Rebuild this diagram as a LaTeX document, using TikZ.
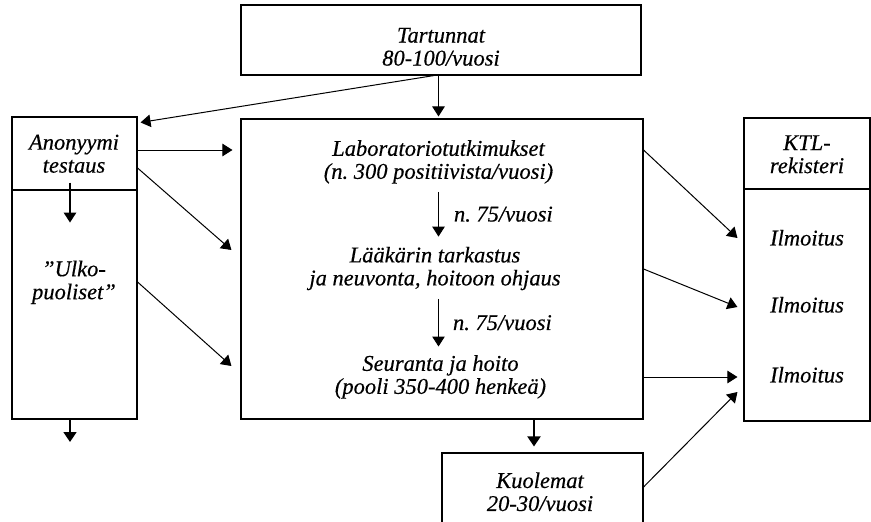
\documentclass[tikz,border=0pt]{standalone}
\usepackage{fontspec}
\setmainfont{Liberation Serif}[ItalicFeatures={FakeBold=0.4}]
\usepackage{tikz}
\usetikzlibrary{arrows.meta, positioning, calc}

\begin{document}
\begin{tikzpicture}[x=1pt, y=-1pt,
  box/.style={draw, line width=1.1pt, inner sep=0pt},
  txt/.style={align=center, inner sep=3pt, font=\fontsize{22.5}{23}\selectfont\itshape},
  arr/.style={line width=1pt, -{Triangle[length=10pt, width=12.5pt]}},
  thickarr/.style={line width=1.8pt, -{Triangle[length=10pt, width=13pt]}}]
\path[use as bounding box, fill=white] (0,0) rectangle (871,522);

% Boxes
\node[box, minimum width=400pt, minimum height=70pt] (tart) at (441,40) {};
\node[box, minimum width=402pt, minimum height=300pt] (main) at (442,269) {};
\node[box, minimum width=125pt, minimum height=73pt] (anon) at (74.5,153.5) {};
\node[box, minimum width=125pt, minimum height=229pt] (ulko) at (74.5,304.5) {};
\node[box, minimum width=126pt, minimum height=71pt] (ktl) at (807,153.5) {};
\node[box, minimum width=126pt, minimum height=232pt] (ilm) at (807,305) {};
\node[box, minimum width=201pt, minimum height=74pt] (kuol) at (542.5,490) {};

% Texts
\node[txt] (tarttxt) at (441,46.8) {Tartunnat\\80-100/vuosi};
\node[txt] (lab) at (438.5,161.9) {Laboratoriotutkimukset\\(n.\ 300 positiivista/vuosi)};
\node[txt] (laak) at (435,268.5) {Lääkärin tarkastus\\ja neuvonta, hoitoon ohjaus};
\node[txt] (seur) at (440.5,376.9) {Seuranta ja hoito\\(pooli 350-400 henkeä)};
\node[txt] (anontxt) at (74,153.8) {Anonyymi\\testaus};
\node[txt] (ulkotxt) at (74,282.3) {”Ulko-\\puoliset”};
\node[txt] (ktltxt) at (807,154.3) {KTL-\\rekisteri};
\node[txt] (ilm1) at (807,237.8) {Ilmoitus};
\node[txt] (ilm2) at (807,304.8) {Ilmoitus};
\node[txt] (ilm3) at (807,374.8) {Ilmoitus};
\node[txt] (kuoltxt) at (540,491.8) {Kuolemat\\20-30/vuosi};
\coordinate (out) at (70,442);

% Arrows from the top box
\draw[arr] (lab.north |- tart.south) -- ($(lab.north |- main.north)+(0,-2)$);
\draw[arr] ($(tart.south)+(-7,0)$) -- ($(anon.north east)+(3,6)$);

% Inside the main box
\draw[arr] ($(lab.south)+(0,5)$) -- ($(lab.south |- laak.north)+(0,-7)$)
  node[txt, midway, right, xshift=12pt] (n1) {n.\ 75/vuosi};
\draw[arr] ($(lab.south |- laak.south)+(0,5.5)$) -- ($(lab.south |- seur.north)+(0,-5.5)$)
  node[txt, midway, right, xshift=11pt] (n2) {n.\ 75/vuosi};

% Left column
\draw[arr, line width=1.5pt] ($(anon.south -| out)+(0,-8)$) -- ($(anon.south -| out)+(0,32)$);
\draw[thickarr] (ulko.south -| out) -- (out);
\draw[arr] (anon.east |- 0,150) -- ($(main.west |- 0,150)+(-8,0)$);
\draw[arr] (anon.east |- 0,168) -- ($(main.west |- 0,250)+(-9,0)$);
\draw[arr] (ulko.east |- 0,282) -- ($(main.west |- 0,366)+(-9,0)$);

% To the register
\draw[arr] (main.east |- 0,150) -- ($(ilm.west |- 0,238)+(-6,0)$);
\draw[arr] (main.east |- 0,269) -- ($(ilm.west |- 0,307)+(-6,0)$);
\draw[arr] (main.east |- 0,377) -- ($(ilm.west |- 0,377)+(-6,0)$);
\draw[arr] (kuol.east |- 0,487) -- ($(ilm.west |- 0,392)+(-6,0)$);

% Deaths
\draw[thickarr, line width=2pt] (main.south -| 534,0) -- ($(kuol.north -| 534,0)+(0,-6)$);
\end{tikzpicture}
\end{document}
